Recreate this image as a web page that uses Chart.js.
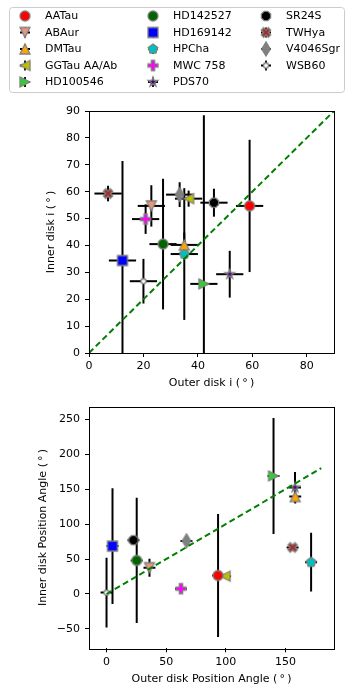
<!DOCTYPE html>
<html><head><meta charset="utf-8">
<script src="https://cdn.jsdelivr.net/npm/chart.js@4.4.1/dist/chart.umd.min.js"></script>
<style>
html,body{margin:0;padding:0;background:#fff;width:350px;height:700px;overflow:hidden}
canvas{position:absolute;left:0}
#c1{top:0}
#c2{top:390px}
</style></head><body>
<canvas id="c1" width="350" height="390"></canvas>
<canvas id="c2" width="350" height="310"></canvas>
<script>
// ---- data ----
const names = ['AATau','ABAur','DMTau','GGTau AA/Ab','HD100546','HD142527','HD169142','HPCha','MWC 758','PDS70','SR24S','TWHya','V4046Sgr','WSB60'];
const colors = ['#ff0000','#e9967a','#ffa500','#bfbf00','#32cd32','#006400','#0000ff','#00bfbf','#ff00ff','#4b0082','#000000','#a52a2a','#808080','#ffffff'];
const markers = ['o','v','^','<','>','o','s','p','P','*','8','X','d','.'];

const outerIncl    = [59.0, 22.9, 35.0, 36.6, 42.2, 27.2, 12.3, 35.0, 20.8, 51.7, 45.9, 7.0, 33.3, 20.0];
const innerIncl    = [54.7, 54.7, 40.2, 57.4, 25.7, 40.5, 34.4, 36.8, 49.8, 29.3, 55.9, 59.3, 58.9, 26.7];
const outerInclErr = [5, 5, 5, 5, 5, 5, 5, 5, 5, 5, 5, 5, 5, 5];
const innerInclErr = [24.6, 7.7, 4.6, 3.0, 62.7, 24.3, 37.0, 24.5, 5.5, 8.7, 5.2, 2.9, 4.6, 8.3];

const outerPA    = [93.5, 36.0, 158.2, 99.4, 140.0, 25.3, 5.0, 171.5, 62.4, 158.0, 22.6, 156.0, 67.0, 0.0];
const innerPA    = [26.5, 37.6, 139.5, 25.5, 169.0, 48.0, 68.5, 45.5, 7.6, 152.4, 77.0, 66.7, 76.0, 2.0];
const outerPAErr = [5, 5, 5, 5, 5, 5, 5, 5, 5, 5, 5, 5, 5, 5];
const innerPAErr = [88, 13, 10, 0, 83, 89.6, 82.7, 42, 0, 22, 0, 4, 6, 50];

const oneToOneIncl = [0, 90];
const oneToOnePA = [0, 180];

const inclTicksX = [0, 20, 40, 60, 80];
const inclTicksY = [0, 10, 20, 30, 40, 50, 60, 70, 80, 90];
const paTicksX = [0, 50, 100, 150];
const paTicksY = [-50, 0, 50, 100, 150, 200, 250];

// ---- markers ----
const S = 10;
function markerPath(g, m, s) {
  const h = s / 2;
  g.beginPath();
  const poly = pts => { g.moveTo(pts[0][0], pts[0][1]); for (let i = 1; i < pts.length; i++) g.lineTo(pts[i][0], pts[i][1]); g.closePath(); };
  const reg = (n, r, a0) => { const p = []; for (let k = 0; k < n; k++) { const a = a0 + k * 2 * Math.PI / n; p.push([r * Math.cos(a), r * Math.sin(a)]); } return p; };
  switch (m) {
    case 'o': g.arc(0, 0, h, 0, 2 * Math.PI); break;
    case '.': g.arc(0, 0, h * 0.5, 0, 2 * Math.PI); break;
    case '^': poly([[0, -h], [h, h], [-h, h]]); break;
    case 'v': poly([[0, h], [-h, -h], [h, -h]]); break;
    case '<': poly([[-h, 0], [h, -h], [h, h]]); break;
    case '>': poly([[h, 0], [-h, h], [-h, -h]]); break;
    case 's': poly([[-h, -h], [h, -h], [h, h], [-h, h]]); break;
    case 'p': poly(reg(5, h, -Math.PI / 2)); break;
    case '8': poly(reg(8, h, Math.PI / 8)); break;
    case '*': {
      const p = [];
      for (let k = 0; k < 10; k++) { const r = k % 2 ? h * 0.381966 : h; const a = -Math.PI / 2 + k * Math.PI / 5; p.push([r * Math.cos(a), r * Math.sin(a)]); }
      poly(p); break;
    }
    case 'P': case 'X': {
      const base = [[-1,-3],[1,-3],[1,-1],[3,-1],[3,1],[1,1],[1,3],[-1,3],[-1,1],[-3,1],[-3,-1],[-1,-1]];
      const rot = m === 'X' ? Math.PI / 4 : 0;
      poly(base.map(([x, y]) => { const X = x * s / 6, Y = y * s / 6; return [X * Math.cos(rot) - Y * Math.sin(rot), X * Math.sin(rot) + Y * Math.cos(rot)]; }));
      break;
    }
    case 'd': { const hh = s * 0.7071, hw = hh * 0.6; poly([[0, -hh], [hw, 0], [0, hh], [-hw, 0]]); break; }
  }
}
function makeMarker(m, fill) {
  const c = document.createElement('canvas'); c.width = 24; c.height = 24;
  const g = c.getContext('2d'); g.translate(12, 12);
  markerPath(g, m, S);
  g.fillStyle = fill; g.fill();
  g.strokeStyle = '#808080'; g.lineWidth = 1.3; g.lineJoin = 'miter'; g.stroke();
  return c;
}
const markerImgs = markers.map((m, i) => makeMarker(m, colors[i]));

// ---- plugins ----
const errorBars = {
  id: 'errorBars',
  beforeDatasetsDraw(chart) {
    const { ctx, chartArea: a, scales: { x, y } } = chart;
    ctx.save();
    ctx.beginPath(); ctx.rect(a.left, a.top, a.right - a.left, a.bottom - a.top); ctx.clip();
    ctx.strokeStyle = '#000'; ctx.lineWidth = 2; ctx.lineCap = 'butt';
    chart.data.datasets.forEach(ds => {
      if (!ds.xErr) return;
      ds.data.forEach((p, i) => {
        const px = x.getPixelForValue(p.x), py = y.getPixelForValue(p.y);
        const ex = ds.xErr[i], ey = ds.yErr[i];
        if (ex > 0) { ctx.beginPath(); ctx.moveTo(x.getPixelForValue(p.x - ex), py); ctx.lineTo(x.getPixelForValue(p.x + ex), py); ctx.stroke(); }
        if (ey > 0) { ctx.beginPath(); ctx.moveTo(px, y.getPixelForValue(p.y - ey)); ctx.lineTo(px, y.getPixelForValue(p.y + ey)); ctx.stroke(); }
      });
    });
    ctx.restore();
  }
};
const frame = {
  id: 'frame',
  afterDatasetsDraw(chart) {
    const { ctx, chartArea: a } = chart;
    ctx.save(); ctx.strokeStyle = '#000'; ctx.lineWidth = 1;
    ctx.strokeRect(Math.round(a.left) + 0.5, Math.round(a.top) + 0.5, Math.round(a.right - a.left), Math.round(a.bottom - a.top));
    ctx.restore();
  }
};
const legendBox = {
  id: 'legendBox',
  afterDraw(chart) {
    const ctx = chart.ctx;
    ctx.save();
    const bx = 9.5, by = 7.5, bw = 335, bh = 85, r = 3;
    ctx.beginPath();
    ctx.moveTo(bx + r, by); ctx.lineTo(bx + bw - r, by); ctx.quadraticCurveTo(bx + bw, by, bx + bw, by + r);
    ctx.lineTo(bx + bw, by + bh - r); ctx.quadraticCurveTo(bx + bw, by + bh, bx + bw - r, by + bh);
    ctx.lineTo(bx + r, by + bh); ctx.quadraticCurveTo(bx, by + bh, bx, by + bh - r);
    ctx.lineTo(bx, by + r); ctx.quadraticCurveTo(bx, by, bx + r, by); ctx.closePath();
    ctx.fillStyle = 'rgba(255,255,255,0.8)'; ctx.fill();
    ctx.strokeStyle = '#cccccc'; ctx.lineWidth = 1; ctx.stroke();
    const colMarkerX = [25, 153, 266], colTextX = [45, 173, 286];
    const perCol = [5, 5, 4];
    let idx = 0;
    ctx.font = '11px "DejaVu Sans"'; ctx.fillStyle = '#000'; ctx.textBaseline = 'middle'; ctx.textAlign = 'left';
    for (let c = 0; c < 3; c++) {
      for (let r2 = 0; r2 < perCol[c]; r2++) {
        const yy = 16 + r2 * 16.5, xx = colMarkerX[c];
        ctx.strokeStyle = '#000'; ctx.lineWidth = 1.8;
        ctx.beginPath(); ctx.moveTo(xx - 5, yy); ctx.lineTo(xx + 5, yy); ctx.moveTo(xx, yy - 5); ctx.lineTo(xx, yy + 5); ctx.stroke();
        ctx.drawImage(markerImgs[idx], xx - 12, yy - 12);
        ctx.fillText(names[idx], colTextX[c], yy + 0.5);
        idx++;
      }
    }
    ctx.restore();
  }
};

// ---- builders ----
const FONT = { family: 'DejaVu Sans', size: 11 };
function axis(min, max, ticks, title, isY, fit) {
  return {
    type: 'linear', min, max,
    afterBuildTicks: s => { s.ticks = ticks.map(v => ({ value: v })); },
    afterFit: s => { if (isY) s.width = fit; else s.height = fit; },
    grid: { display: true, drawOnChartArea: false, drawTicks: true, tickLength: 4, color: '#000', tickColor: '#000', lineWidth: 1 },
    border: { display: false },
    ticks: { color: '#000', font: FONT, padding: isY ? 5 : 3, maxRotation: 0, autoSkip: false,
      callback: v => (v < 0 ? '\u2212' + Math.abs(v) : String(v)) },
    title: { display: true, text: title, color: '#000', font: FONT, padding: 0 }
  };
}
function datasets(xs, ys, xe, ye, line) {
  const ds = names.map((n, i) => ({
    label: n,
    data: [{ x: xs[i], y: ys[i] }],
    xErr: [xe[i]], yErr: [ye[i]],
    pointStyle: markerImgs[i], pointRadius: 6, showLine: false, order: 1
  }));
  ds.push({
    label: '1:1', type: 'line',
    data: line.map(v => ({ x: v, y: v })),
    borderColor: '#008000', borderWidth: 2, borderDash: [6, 3.5], pointRadius: 0, fill: false, order: 0
  });
  return ds;
}
const common = { responsive: false, animation: false, devicePixelRatio: 1,
  plugins: { legend: { display: false }, tooltip: { enabled: false } } };

new Chart(document.getElementById('c1'), {
  type: 'scatter',
  data: { datasets: datasets(outerIncl, innerIncl, outerInclErr, innerInclErr, oneToOneIncl) },
  options: Object.assign({}, common, {
    layout: { padding: { left: 45, top: 111, right: 16, bottom: 0 } },
    scales: {
      x: axis(0, 90, inclTicksX, 'Outer disk i (\u2009\u00b0\u2009)', false, 37),
      y: axis(0, 90, inclTicksY, 'Inner disk i (\u2009\u00b0\u2009)', true, 44)
    }
  }),
  plugins: [errorBars, frame, legendBox]
});

new Chart(document.getElementById('c2'), {
  type: 'scatter',
  data: { datasets: datasets(outerPA, innerPA, outerPAErr, innerPAErr, oneToOnePA) },
  options: Object.assign({}, common, {
    layout: { padding: { left: 36.7, top: 16.7, right: 16, bottom: 14.4 } },
    scales: {
      x: axis(-14.7, 190.7, paTicksX, 'Outer disk Position Angle (\u2009\u00b0\u2009)', false, 37.3),
      y: axis(-77.7, 268, paTicksY, 'Inner disk Position Angle (\u2009\u00b0\u2009)', true, 52.3)
    }
  }),
  plugins: [errorBars, frame]
});
</script>
</body></html>
